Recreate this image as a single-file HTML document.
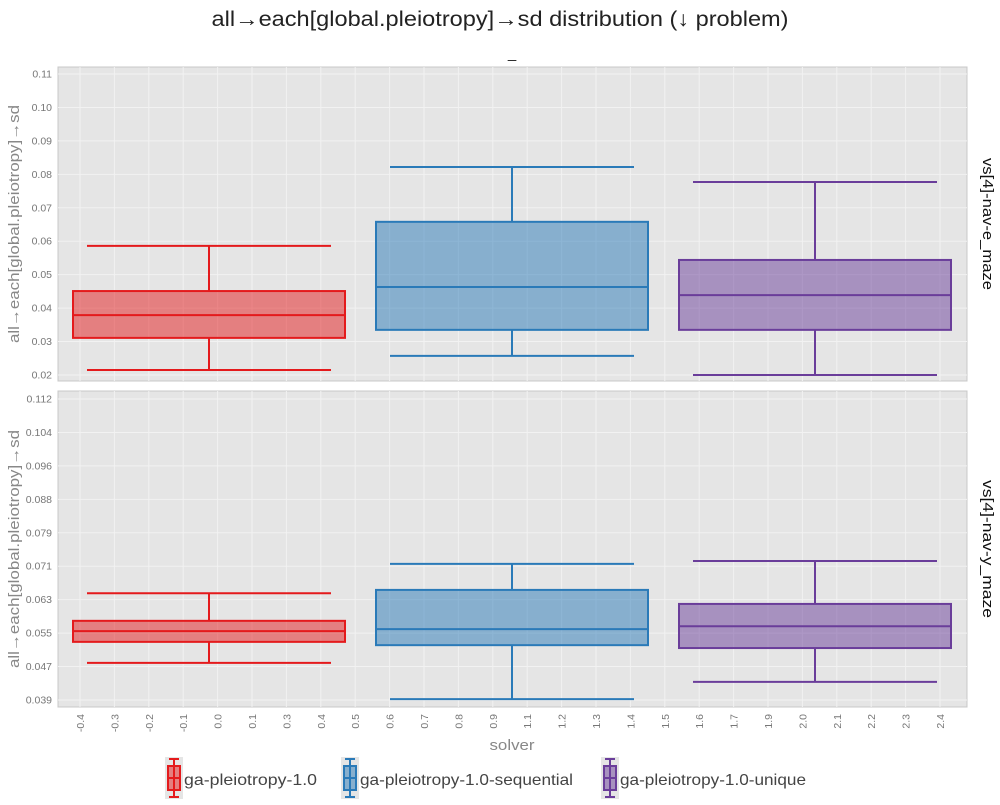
<!DOCTYPE html>
<html><head><meta charset="utf-8"><style>
body{margin:0;background:#fff;font-family:"Liberation Sans","DejaVu Sans",sans-serif}
</style></head><body>
<svg id="c" width="1000" height="800" xmlns="http://www.w3.org/2000/svg"></svg>
<script>
const categories=["ga-pleiotropy-1.0","ga-pleiotropy-1.0-sequential","ga-pleiotropy-1.0-unique"];
const colors=["#e41a1c","#2a7ab8","#6a3d9a"];
const panelNames=["vs[4]-nav-e_maze","vs[4]-nav-y_maze"];
// [lowWhisker, q1, median, q3, highWhisker]
const topStats=[[0.0215,0.0311,0.0379,0.0451,0.0586],[0.0257,0.0335,0.0463,0.0658,0.0822],[0.0200,0.0335,0.0439,0.0544,0.0777]];
const botStats=[[0.0480,0.0531,0.0557,0.0582,0.0649],[0.0392,0.0523,0.0562,0.0657,0.0720],[0.0434,0.0516,0.0569,0.0623,0.0727]];
const topTicks=["0.02","0.03","0.04","0.05","0.06","0.07","0.08","0.09","0.10","0.11"];
const botTicks=["0.039","0.047","0.055","0.063","0.071","0.079","0.088","0.096","0.104","0.112"];
const xTicks=["-0.4","-0.3","-0.2","-0.1","0.0","0.1","0.3","0.4","0.5","0.6","0.7","0.8","0.9","1.1","1.2","1.3","1.4","1.5","1.6","1.7","1.9","2.0","2.1","2.2","2.3","2.4"];
const topDomain=[0.02,0.11], botDomain=[0.039,0.112];
const svg=document.getElementById('c');const NS="http://www.w3.org/2000/svg";
function mk(t,a,p){const e=document.createElementNS(NS,t);for(const k in a)e.setAttribute(k,a[k]);(p||svg).appendChild(e);return e;}
const X0=58,X1=967;
function xPos(i){return 209+303*i;}
function xTickPos(i){return 80+i*34.4;}
let t=mk('text',{x:500,y:26,'text-anchor':'middle','font-size':21,fill:'#222',textLength:577,lengthAdjust:'spacingAndGlyphs'});t.textContent="all→each[global.pleiotropy]→sd distribution (↓ problem)";


t=mk('text',{x:512,y:58,'text-anchor':'middle','font-size':15,fill:'#222'});t.textContent="_";


function panel(py0,py1,domain,tickLabels,stats,name,yTickPos0,yTickPos1,facetLen){
  const g=mk('g',{});
  
  
  mk('rect',{x:X0,y:py0,width:X1-X0,height:py1-py0,fill:'#e5e5e5',stroke:'#c8c8c8'},g);
  const yv=v=>yTickPos0+(v-domain[0])/(domain[1]-domain[0])*(yTickPos1-yTickPos0);
  for(let i=0;i<xTicks.length;i++){const x=xTickPos(i);mk('line',{x1:x,x2:x,y1:py0,y2:py1,stroke:'#f2f2f2','stroke-width':1},g);}
  tickLabels.forEach((l,i)=>{const y=yTickPos0+i*(yTickPos1-yTickPos0)/(tickLabels.length-1);
    mk('line',{x1:X0,x2:X1,y1:y,y2:y,stroke:'#f2f2f2','stroke-width':1},g);
    const tx=mk('text',{x:52,y:y+3.5,'text-anchor':'end','font-size':10.5,fill:'#777'},g);tx.textContent=l;
    
    });
  stats.forEach((s,i)=>{const c=colors[i],cx=xPos(i),bw=136,cw=122;
    const b=mk('g',{},g);
    
    
    mk('line',{x1:cx,x2:cx,y1:yv(s[0]),y2:yv(s[1]),stroke:c,'stroke-width':2},b);
    mk('line',{x1:cx,x2:cx,y1:yv(s[3]),y2:yv(s[4]),stroke:c,'stroke-width':2},b);
    mk('line',{x1:cx-cw,x2:cx+cw,y1:yv(s[0]),y2:yv(s[0]),stroke:c,'stroke-width':2},b);
    mk('line',{x1:cx-cw,x2:cx+cw,y1:yv(s[4]),y2:yv(s[4]),stroke:c,'stroke-width':2},b);
    mk('rect',{x:cx-bw,y:yv(s[3]),width:2*bw,height:yv(s[1])-yv(s[3]),fill:c,'fill-opacity':0.5,stroke:c,'stroke-width':2},b);
    mk('line',{x1:cx-bw,x2:cx+bw,y1:yv(s[2]),y2:yv(s[2]),stroke:c,'stroke-width':2},b);
  });
  const my=(py0+py1)/2;
  const ft=mk('text',{x:983,y:my,'text-anchor':'middle','font-size':15,fill:'#111',transform:`rotate(90 983 ${my})`,textLength:facetLen,lengthAdjust:'spacingAndGlyphs'});ft.textContent=name;
  
  
  const yt=mk('text',{x:19,y:my,'text-anchor':'middle','font-size':15,fill:'#888',transform:`rotate(-90 19 ${my})`,textLength:238,lengthAdjust:'spacingAndGlyphs'});yt.textContent="all→each[global.pleiotropy]→sd";
  
  
}
panel(67,381,topDomain,topTicks,topStats,panelNames[0],375,74,132);
panel(391,707,botDomain,botTicks,botStats,panelNames[1],700,399,138);
xTicks.forEach((l,i)=>{const x=xTickPos(i);const tx=mk('text',{x:x+4,y:714,'text-anchor':'end','font-size':10.5,fill:'#777',transform:`rotate(-90 ${x+4} 714)`});tx.textContent=l;
  
  });
t=mk('text',{x:512,y:750,'text-anchor':'middle','font-size':15,fill:'#888',textLength:45,lengthAdjust:'spacingAndGlyphs'});t.textContent="solver";


const legX=[174,350,610];
const legLen=[133,213,186];
categories.forEach((n,i)=>{const c=colors[i],x=legX[i];const g=mk('g',{});
  
  
  mk('rect',{x:x-9,y:757,width:18,height:42,fill:'#e5e5e5'},g);
  mk('line',{x1:x,x2:x,y1:759,y2:797,stroke:c,'stroke-width':2},g);
  mk('line',{x1:x-5,x2:x+5,y1:759,y2:759,stroke:c,'stroke-width':2},g);
  mk('line',{x1:x-5,x2:x+5,y1:797,y2:797,stroke:c,'stroke-width':2},g);
  mk('rect',{x:x-6,y:766,width:12,height:24,fill:c,'fill-opacity':0.5,stroke:c,'stroke-width':2},g);
  mk('line',{x1:x-6,x2:x+6,y1:778,y2:778,stroke:c,'stroke-width':2},g);
  const tx=mk('text',{x:x+10,y:785,'font-size':16,fill:'#444',textLength:legLen[i],lengthAdjust:'spacingAndGlyphs'},g);tx.textContent=n;});
</script>
</body></html>
